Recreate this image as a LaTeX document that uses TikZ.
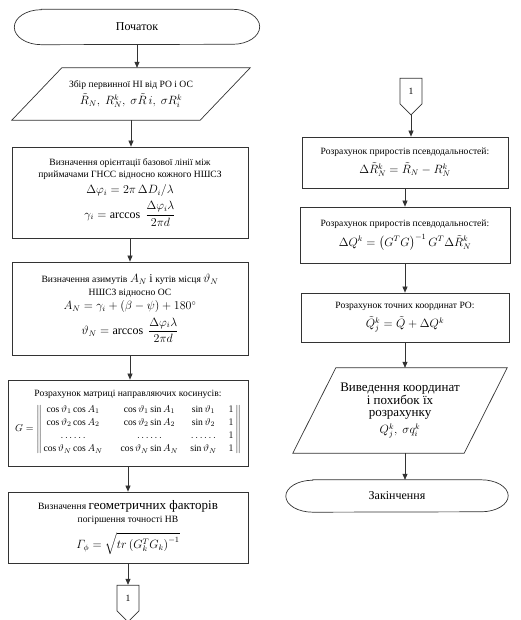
\documentclass[tikz,border=0pt]{standalone}
\usepackage{fontspec}
\setmainfont{Liberation Serif}
\usepackage{amsmath}
\usetikzlibrary{arrows.meta,shapes.symbols}

\newcommand{\fsmall}{\fontsize{9.6}{11.5}\selectfont}
\newcommand{\fmid}{\fontsize{12}{14}\selectfont}
\newcommand{\fbig}{\fontsize{13}{15}\selectfont}

\begin{document}
\begin{tikzpicture}[x=1pt, y=1pt,
  box/.style={draw=black!80, line width=0.7pt, align=center, inner sep=1pt},
  bare/.style={align=center, inner sep=1pt},
  link/.style={signal, signal to=south, draw=black!80, line width=0.7pt,
    minimum width=22pt, minimum height=28pt, inner sep=0pt, font=\fsmall},
  edge/.style={draw=black!80, line width=0.7pt},
  arr/.style={edge, -{Triangle[length=6pt,width=5pt]}}]
  \useasboundingbox (0,0) rectangle (520,620);

  % left column
  \node[bare, minimum width=245pt, minimum height=35pt] (start) at (137,593) {\fmid Початок};
  \node[bare, minimum width=238pt, minimum height=52pt] (in1) at (131,526)
    {{\fsmall Збір первинної НІ від РО і ОС}\\[3pt]
     {\fmid $\tilde R_N,\ R_N^k,\ \sigma\tilde R\,i,\ \sigma R_i^k$}};
  \node[box, minimum width=236pt, minimum height=91pt] (orient) at (130,427.5)
    {{\fsmall Визначення орієнтації базової лінії між}\\
     {\fsmall приймачами ГНСС відносно кожного НШСЗ}\\[4pt]
     {\fmid $\Delta\varphi_i = 2\pi\,\Delta D_i/\lambda$}\\[4pt]
     {\fmid $\gamma_i = \arccos\ \dfrac{\Delta\varphi_i\lambda}{2\pi d}$}};
  \node[box, minimum width=236pt, minimum height=93pt] (azim) at (130,311.5)
    {{\fsmall Визначення азимутів} {\fmid $A_N$} {\fmid і} {\fsmall кутів місця} {\fmid $\vartheta_N$}\\[1pt]
     {\fsmall НШСЗ відносно ОС}\\[2pt]
     {\fmid $A_N = \gamma_i + (\beta-\psi) + 180^{\circ}$}\\[4pt]
     {\fmid $\vartheta_N = \arccos\ \dfrac{\Delta\varphi_i\lambda}{2\pi d}$}};
  \node[box, minimum width=240pt, minimum height=86pt] (mtx) at (128,197)
    {{\fsmall Розрахунок матриці направляючих косинусів:}\\[3pt]
     {\fsmall\renewcommand{\arraystretch}{1.15}%
     $G=\left\|\begin{array}{@{\,}c@{\hspace{18pt}}c@{\hspace{12pt}}c@{\hspace{12pt}}c@{\,}}
       \cos\vartheta_1\cos A_1 & \cos\vartheta_1\sin A_1 & \sin\vartheta_1 & 1\\
       \cos\vartheta_2\cos A_2 & \cos\vartheta_2\sin A_2 & \sin\vartheta_2 & 1\\
       \ldots\ldots & \ldots\ldots & \ldots\ldots & 1\\
       \cos\vartheta_N\cos A_N & \cos\vartheta_N\sin A_N & \sin\vartheta_N & 1
     \end{array}\right\|$}};
  \node[box, minimum width=240pt, minimum height=71pt] (geom) at (128,92.5)
    {{\fsmall Визначення} {\fbig геометричних факторів}\\[1pt]
     {\fsmall погіршення точності НВ}\\[7pt]
     {\fmid $\varGamma_{\phi} = \sqrt{tr\left(G_k^T G_k\right)^{-1}}$}};
  \node[link] (con1) at (128,22) {1};

  % right column
  \node[link] (con2) at (411,529) {1};
  \node[box, minimum width=206pt, minimum height=51pt] (incr) at (405,457.5)
    {{\fsmall Розрахунок приростів псевдодальностей:}\\[5pt]
     {\fmid $\Delta\tilde R_N^k = \tilde R_N - R_N^k$}};
  \node[box, minimum width=210pt, minimum height=56pt] (corr) at (405,385)
    {{\fsmall Розрахунок приростів псевдодальностей:}\\[5pt]
     {\fmid $\Delta Q^k = \left(G^T G\right)^{-1} G^T \Delta\tilde R_N^k$}};
  \node[box, minimum width=208pt, minimum height=49pt] (coord) at (405,302.5)
    {{\fsmall Розрахунок точних координат РО:}\\[5pt]
     {\fmid $\tilde Q_j^k = \tilde Q + \Delta Q^k$}};
  \node[bare, minimum width=214pt, minimum height=85pt] (out) at (400,209.5)
    {{\fbig Виведення координат}\\
     {\fbig і похибок їх}\\
     {\fbig розрахунку}\\[3pt]
     {\fmid $Q_j^k,\ \sigma q_i^k$}};
  \node[bare, minimum width=222pt, minimum height=32pt] (stop) at (397,124) {\fmid Закінчення};

  % outlines of terminals and in/out blocks
  \foreach \t/\r in {start/17.5pt,stop/16pt}
    \draw[edge] ([xshift=27pt]\t.north west) -- ([xshift=-27pt]\t.north east)
      arc[start angle=90, end angle=-90, x radius=27pt, y radius=\r]
      -- ([xshift=27pt]\t.south west)
      arc[start angle=270, end angle=90, x radius=27pt, y radius=\r] -- cycle;
  \foreach \p/\s in {in1/50pt,out/43pt}
    \draw[edge] ([xshift=\s]\p.north west) -- (\p.north east)
      -- ([xshift=-\s]\p.south east) -- (\p.south west) -- cycle;

  % connectors
  \draw[arr] (start.south) -- (start.south |- in1.north);
  \draw[arr] (in1.south) -- (in1.south |- orient.north);
  \draw[arr] (orient.south) -- (orient.south |- azim.north);
  \draw[arr] (azim.south) -- (azim.south |- mtx.north);
  \draw[arr] (mtx.south) -- (mtx.south |- geom.north);
  \draw[arr] (geom.south) -- (geom.south |- con1.north);
  \draw[arr] (con2.south) -- (con2.south |- incr.north);
  \draw[arr] (incr.south) -- (incr.south |- corr.north);
  \draw[arr] (corr.south) -- (corr.south |- coord.north);
  \draw[arr] (coord.south) -- (coord.south |- out.north);
  \draw[arr] (coord.south |- out.south) -- (coord.south |- stop.north);
\end{tikzpicture}
\end{document}
